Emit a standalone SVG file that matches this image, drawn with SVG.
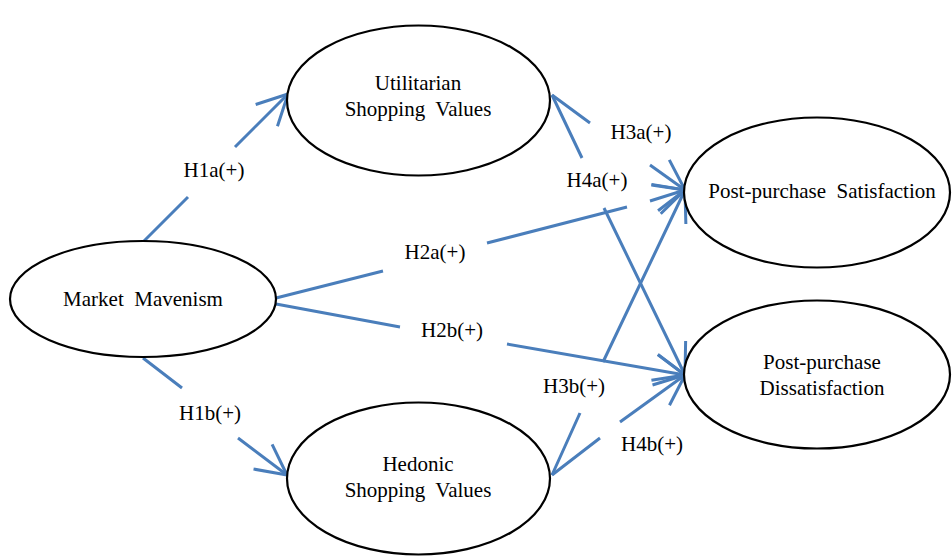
<svg xmlns="http://www.w3.org/2000/svg" width="952" height="560" viewBox="0 0 952 560">
<defs>
<style>
.node ellipse{fill:#fff;stroke:#000;stroke-width:2.2}
text{font-family:"Liberation Serif","Times New Roman",serif;font-size:21px;fill:#000;text-anchor:middle;white-space:pre}
.c{fill:none;stroke:#4a7ebb;stroke-width:3;marker-end:url(#ah)}
</style>
<marker id="ah" markerUnits="userSpaceOnUse" orient="auto" refX="0" refY="0" markerWidth="40" markerHeight="40" overflow="visible">
<path d="M-30.3,-15.4 L0,0 L-30.3,15.4" fill="none" stroke="#4a7ebb" stroke-width="3" stroke-linejoin="round"/>
</marker>
</defs>
<rect width="952" height="560" fill="#fff"/>
<g id="connectors">
<path id="H1a" class="c" d="M143,242 L188,197 M235,147 L288,94"/>
<path id="H1b" class="c" d="M143,358 L182,388 M238,438 L287,475"/>
<path id="H2a" class="c" d="M276,298 L383,271 M487,243 L627,207 M650,201 L685,190"/>
<path id="H2b" class="c" d="M276,304 L400,327 M507,344 L685,375"/>
<path id="H3a" class="c" d="M552,95 L590,123 M650,165 L685,190"/>
<path id="H4a" class="c" d="M552,95 L582,158 M604,208 L685,375"/>
<path id="H3b" class="c" d="M552,475 L580,413 M603,362 L685,190"/>
<path id="H4b" class="c" d="M552,475 L600,438 M620,422 L685,375"/>
</g>
<g id="labels">
<text x="214" y="177">H1a(+)</text>
<text x="210" y="420">H1b(+)</text>
<text x="435" y="259">H2a(+)</text>
<text x="452" y="337">H2b(+)</text>
<text x="641" y="139">H3a(+)</text>
<text x="597" y="187">H4a(+)</text>
<text x="574" y="393">H3b(+)</text>
<text x="652" y="451">H4b(+)</text>
</g>
<g id="mm" class="node">
<ellipse cx="143" cy="299" rx="133" ry="58"/>
<text x="143" y="306">Market  Mavenism</text>
</g>
<g id="usv" class="node">
<ellipse cx="418.5" cy="100.5" rx="131.5" ry="75"/>
<text x="418" y="90">Utilitarian</text>
<text x="418" y="116">Shopping  Values</text>
</g>
<g id="hsv" class="node">
<ellipse cx="418.5" cy="478.5" rx="131.5" ry="76"/>
<text x="418" y="471">Hedonic</text>
<text x="418" y="497">Shopping  Values</text>
</g>
<g id="sat" class="node">
<ellipse cx="817" cy="192.5" rx="133" ry="75"/>
<text x="822" y="198">Post-purchase  Satisfaction</text>
</g>
<g id="dis" class="node">
<ellipse cx="817" cy="374.5" rx="133" ry="74"/>
<text x="822" y="369">Post-purchase</text>
<text x="822" y="395">Dissatisfaction</text>
</g>
</svg>
